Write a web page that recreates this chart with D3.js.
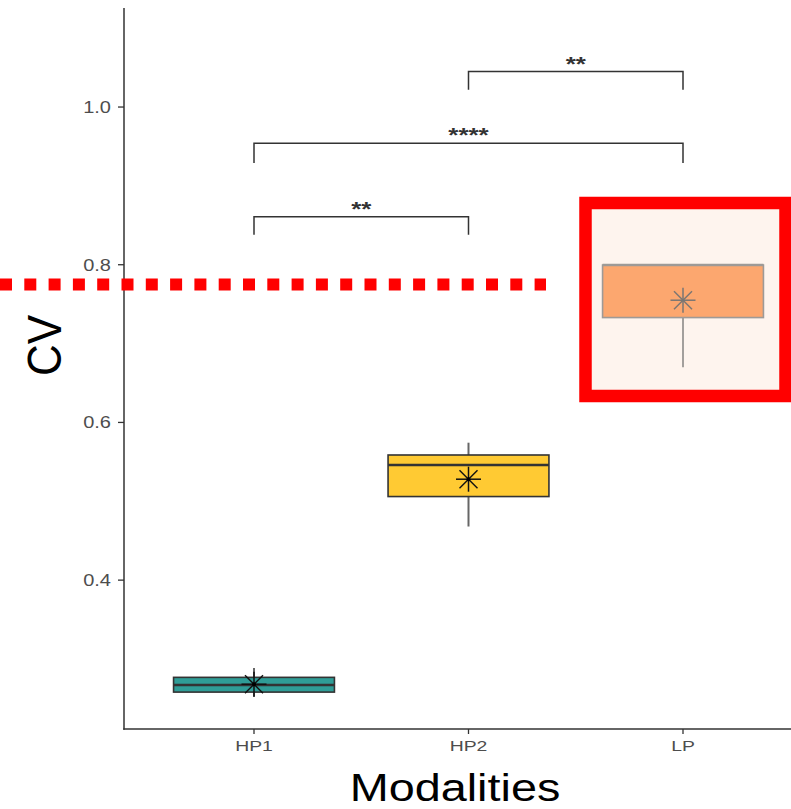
<!DOCTYPE html>
<html>
<head>
<meta charset="utf-8">
<script src="https://cdn.jsdelivr.net/npm/d3@7"></script>
<style>
  html, body { margin: 0; padding: 0; background: #fff; }
  svg { display: block; }
  text { font-family: "Liberation Sans", Arial, sans-serif; }
</style>
</head>
<body>
<svg id="chart" width="791" height="809"></svg>
<script>
// ---- data ----
const categories = ["HP1", "HP2", "LP"];
const whiskerLow  = [0.252, 0.468, 0.670];
const q1          = [0.258, 0.506, 0.733];
const median      = [0.267, 0.546, 0.7996];
const q3          = [0.2767, 0.5587, 0.7996];
const whiskerHigh = [0.2885, 0.5743, 0.7996];
const means       = [0.268, 0.528, 0.755];
const fills       = ["#2F9D97", "#FFCA33", "#FCA76F"];
const yTicks      = [0.4, 0.6, 0.8, 1.0];
const comparisons = [
  { from: "HP1", to: "HP2", y: 0.861, tip: 0.838, label: "**" },
  { from: "HP1", to: "LP",  y: 0.954, tip: 0.929, label: "****" },
  { from: "HP2", to: "LP",  y: 1.045, tip: 1.022, label: "**" }
];
const thresholdValue = 0.775;
const highlightCategory = "LP";

// ---- layout ----
const svg = d3.select("#chart");
const W = 791, H = 809;
const plotLeft = 124, plotBottom = 729, plotTop = 8;

const x = d3.scalePoint().domain(categories).range([254, 683]);
const step = x.step();
const boxW = step * 0.75;
const y = d3.scaleLinear().domain([0.2112, 1.1256]).range([plotBottom, plotTop]);

const boxes = categories.map((c, i) => ({
  cat: c, lo: whiskerLow[i], q1: q1[i], med: median[i], q3: q3[i], hi: whiskerHigh[i],
  mean: means[i], fill: fills[i], faded: c === highlightCategory
}));

// highlight frame geometry (stroke centre line)
const hx = x(highlightCategory);
const hlRect = { x0: hx - 97.5, x1: hx + 102.5, y0: 203, y1: 396 };
svg.append("rect")
  .attr("x", hlRect.x0).attr("y", hlRect.y0)
  .attr("width", hlRect.x1 - hlRect.x0).attr("height", hlRect.y1 - hlRect.y0)
  .attr("fill", "#FEF4EE");

// boxes
const g = svg.append("g");
boxes.forEach(b => {
  const cx = x(b.cat);
  const strokeC = b.faded ? "#9E9A97" : "#333333";
  const whiskC = b.faded ? "#A39F9C" : "#666666";
  g.append("line").attr("x1", cx).attr("x2", cx)
    .attr("y1", y(b.hi)).attr("y2", y(b.q3))
    .attr("stroke", whiskC).attr("stroke-width", 2);
  g.append("line").attr("x1", cx).attr("x2", cx)
    .attr("y1", y(b.q1)).attr("y2", y(b.lo))
    .attr("stroke", whiskC).attr("stroke-width", 2);
  g.append("rect")
    .attr("x", cx - boxW / 2).attr("y", y(b.q3))
    .attr("width", boxW).attr("height", y(b.q1) - y(b.q3))
    .attr("fill", b.fill).attr("stroke", strokeC).attr("stroke-width", 1.6);
  g.append("line")
    .attr("x1", cx - boxW / 2).attr("x2", cx + boxW / 2)
    .attr("y1", y(b.med)).attr("y2", y(b.med))
    .attr("stroke", strokeC).attr("stroke-width", 2.4);
  const my = y(b.mean), hw = 12.5, hh = 9.5;
  const mc = b.faded ? "#7A7673" : "#111111";
  const segs = [
    [cx - hw, my, cx + hw, my],
    [cx, my - hh - 3, cx, my + hh + 3],
    [cx - hw * 0.72, my - hh * 0.95, cx + hw * 0.72, my + hh * 0.95],
    [cx - hw * 0.72, my + hh * 0.95, cx + hw * 0.72, my - hh * 0.95]
  ];
  segs.forEach(s => g.append("line")
    .attr("x1", s[0]).attr("y1", s[1]).attr("x2", s[2]).attr("y2", s[3])
    .attr("stroke", mc).attr("stroke-width", 1.5));
  if (!b.faded) {
    g.append("circle").attr("cx", cx).attr("cy", my).attr("r", 2).attr("fill", "#000");
  }
});

// axes
const axisC = "#333333";
svg.append("line").attr("x1", plotLeft).attr("x2", plotLeft)
  .attr("y1", plotTop).attr("y2", plotBottom + 0.75)
  .attr("stroke", axisC).attr("stroke-width", 1.5);
svg.append("line").attr("x1", plotLeft - 0.75).attr("x2", W)
  .attr("y1", plotBottom).attr("y2", plotBottom)
  .attr("stroke", axisC).attr("stroke-width", 1.5);

yTicks.forEach(t => {
  const ty = y(t);
  svg.append("line").attr("x1", plotLeft - 6).attr("x2", plotLeft)
    .attr("y1", ty).attr("y2", ty).attr("stroke", axisC).attr("stroke-width", 1.3);
  svg.append("text")
    .attr("transform", `translate(111,${ty + 5.8}) scale(1.25,1)`)
    .attr("text-anchor", "end")
    .attr("font-size", 16).attr("fill", "#4D4D4D")
    .text(d3.format(".1f")(t));
});

categories.forEach(c => {
  const tx = x(c);
  svg.append("line").attr("x1", tx).attr("x2", tx)
    .attr("y1", plotBottom).attr("y2", plotBottom + 5)
    .attr("stroke", axisC).attr("stroke-width", 1.3);
  svg.append("text")
    .attr("transform", `translate(${tx},751) scale(1.25,1)`)
    .attr("text-anchor", "middle")
    .attr("font-size", 15.5).attr("fill", "#4D4D4D")
    .text(c);
});

svg.append("text")
  .attr("transform", "translate(455,801) scale(1.2,1)")
  .attr("text-anchor", "middle").attr("font-size", 39).attr("fill", "#000")
  .text("Modalities");
svg.append("text")
  .attr("transform", "translate(61,345.5) scale(1.11,1) rotate(-90)")
  .attr("text-anchor", "middle").attr("font-size", 44).attr("fill", "#000")
  .text("CV");

comparisons.forEach(cmp => {
  const x1 = x(cmp.from), x2 = x(cmp.to);
  const by = y(cmp.y), ty = y(cmp.tip);
  svg.append("path")
    .attr("d", `M${x1},${ty}V${by}H${x2}V${ty}`)
    .attr("fill", "none").attr("stroke", "#333").attr("stroke-width", 1.5);
  svg.append("text")
    .attr("transform", `translate(${(x1 + x2) / 2},${by - 1}) scale(1.3,1)`)
    .attr("text-anchor", "middle").attr("font-size", 20).attr("font-weight", "bold")
    .attr("fill", "#333")
    .text(cmp.label);
});

svg.append("line")
  .attr("x1", 0).attr("x2", 546)
  .attr("y1", y(thresholdValue)).attr("y2", y(thresholdValue))
  .attr("stroke", "#FF0000").attr("stroke-width", 12)
  .attr("stroke-dasharray", "12,12.3");

svg.append("rect")
  .attr("x", hlRect.x0).attr("y", hlRect.y0)
  .attr("width", hlRect.x1 - hlRect.x0).attr("height", hlRect.y1 - hlRect.y0)
  .attr("fill", "none").attr("stroke", "#FF0000").attr("stroke-width", 12.5);
</script>
</body>
</html>
